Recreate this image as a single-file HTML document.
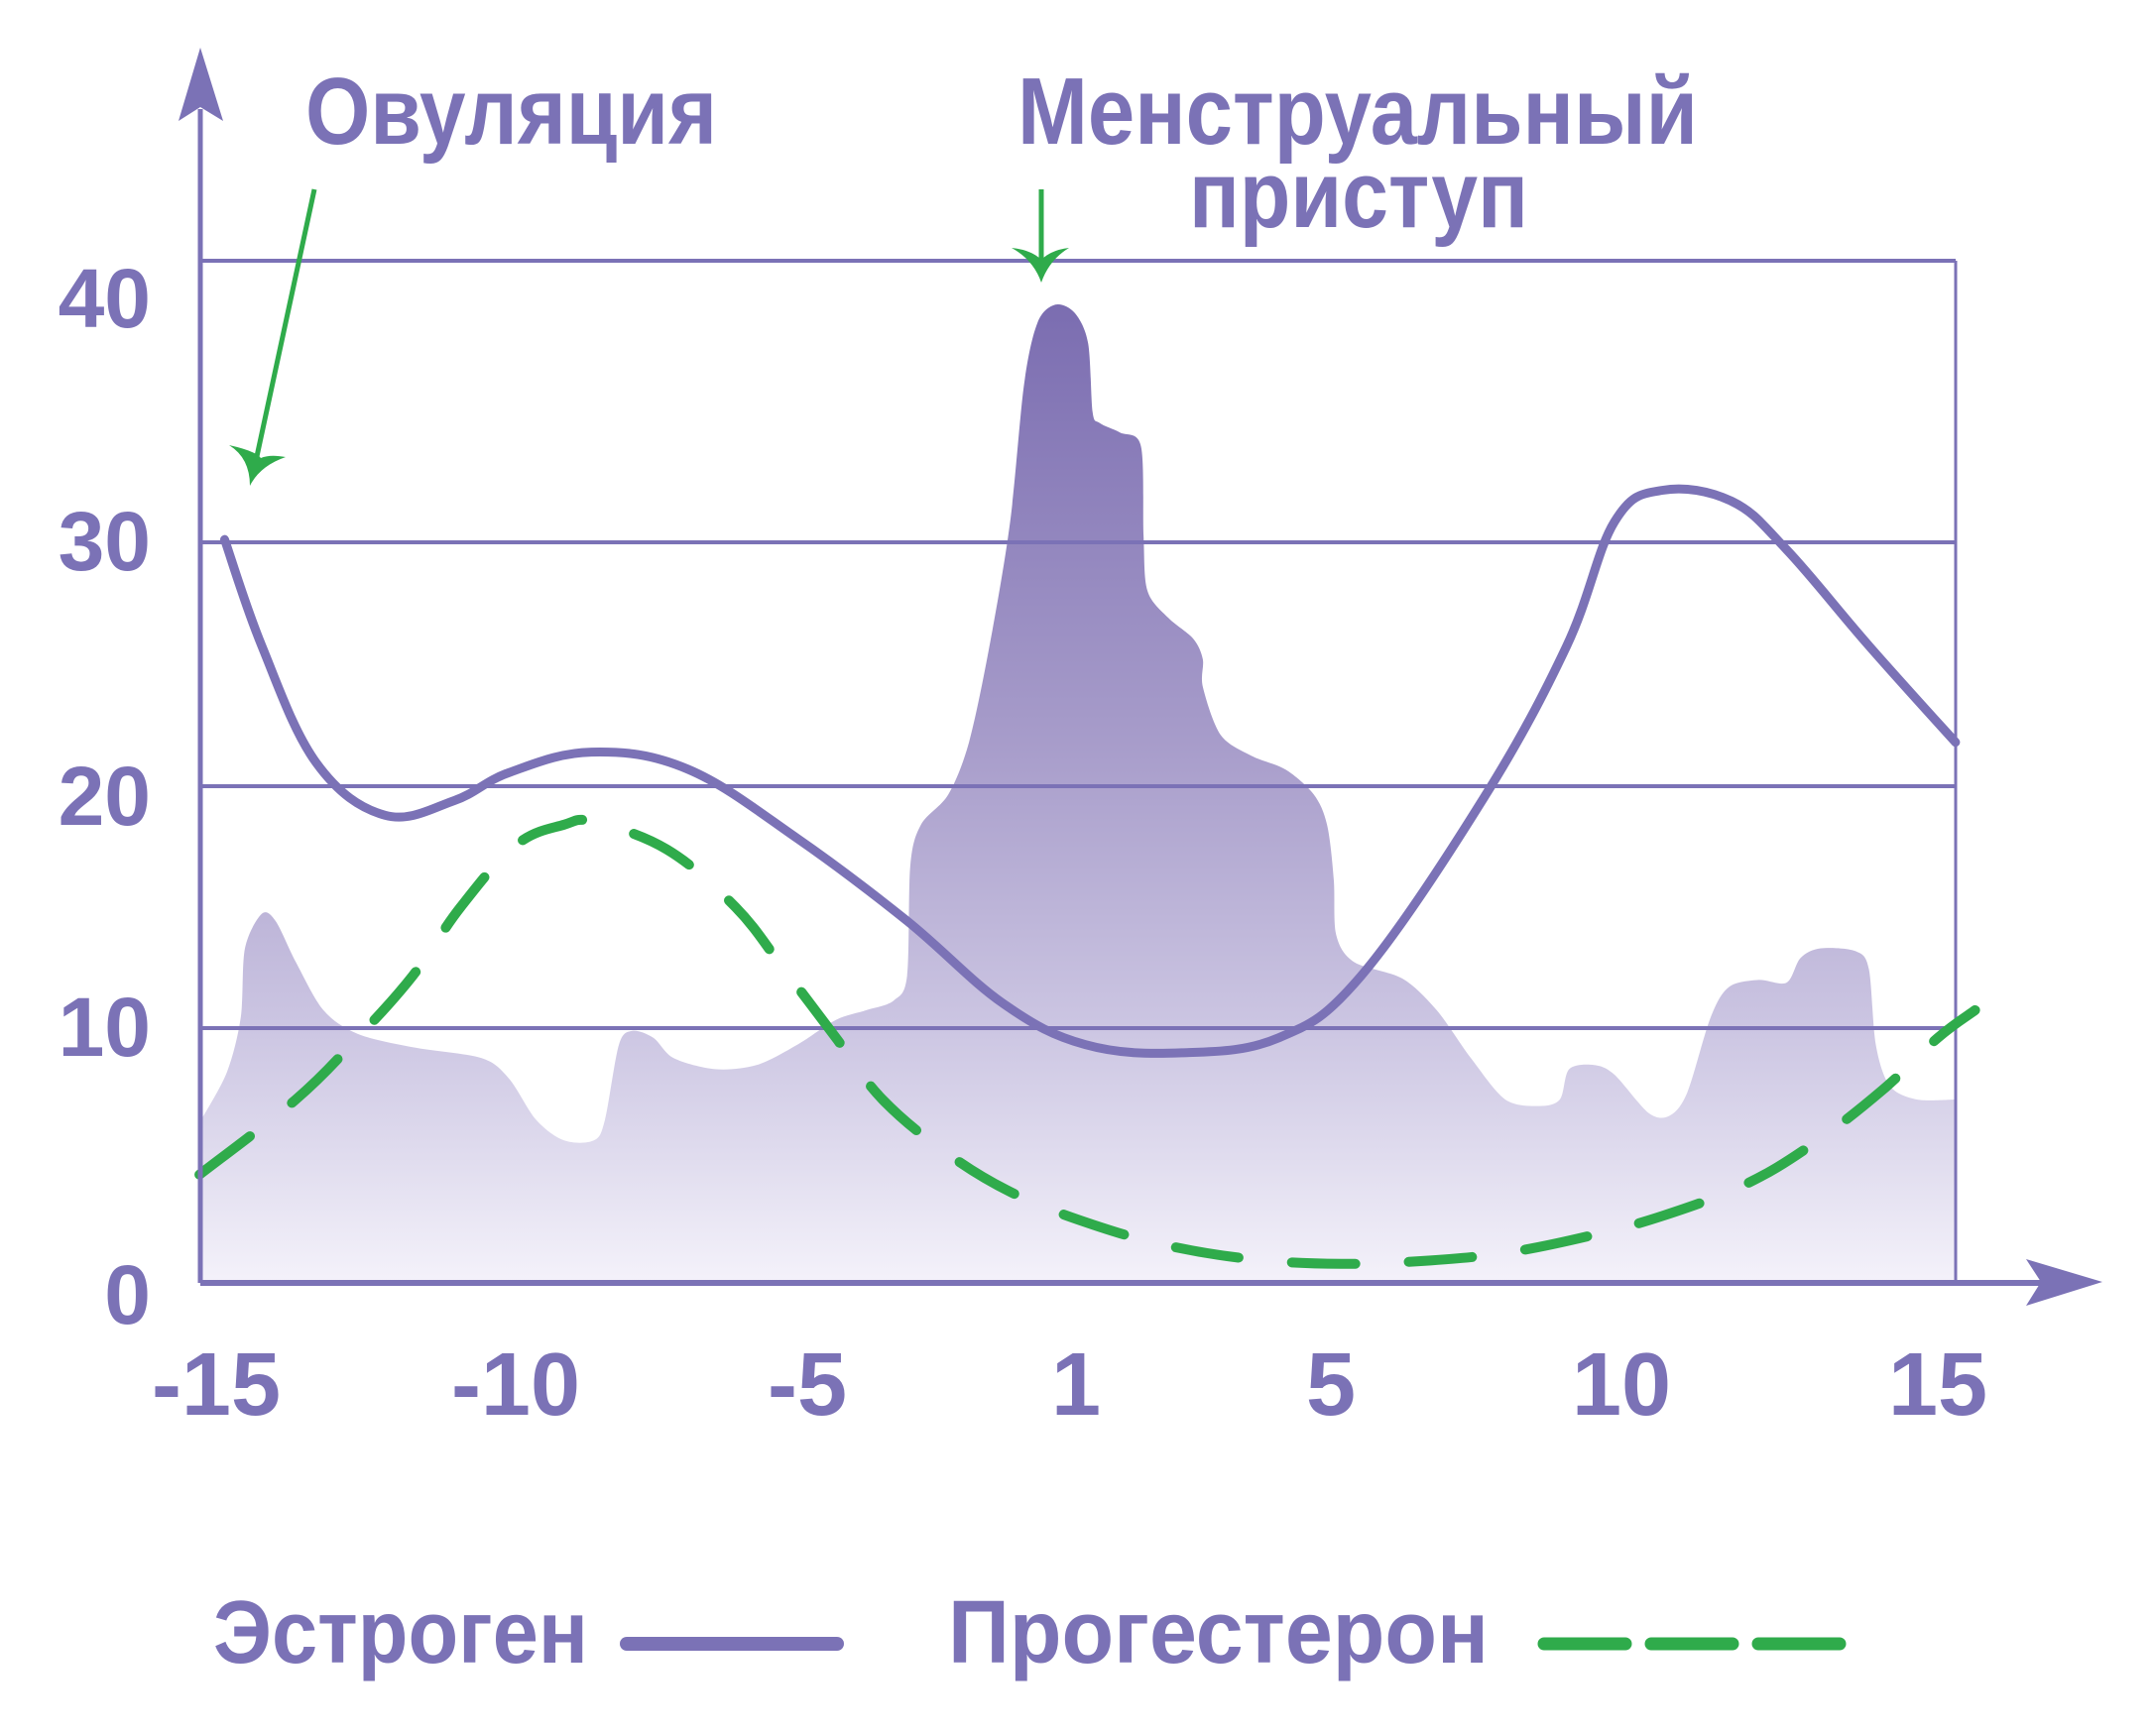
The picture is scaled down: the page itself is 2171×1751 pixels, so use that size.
<!DOCTYPE html>
<html><head><meta charset="utf-8">
<style>
html,body{margin:0;padding:0;background:#fff;}
svg{display:block;}
text{font-family:"Liberation Sans","DejaVu Sans",sans-serif;font-weight:bold;fill:#7b72b6;}
</style></head>
<body>
<svg id="chart" width="2171" height="1751" viewBox="0 0 2171 1751" xmlns="http://www.w3.org/2000/svg">
<defs>
<linearGradient id="areaGrad" gradientUnits="userSpaceOnUse" x1="0" y1="300" x2="0" y2="1294">
<stop offset="0" stop-color="#7a6cb0"/>
<stop offset="0.45" stop-color="#a79cca"/>
<stop offset="0.75" stop-color="#cdc7e3"/>
<stop offset="1" stop-color="#f4f2fa"/>
</linearGradient>
</defs>
<g id="area-layer"></g>
<g id="grid-layer"></g>
<g id="series-layer"></g>
<g id="axes">
<line x1="202" y1="1294" x2="202" y2="110" stroke="#7b72b6" stroke-width="5"/>
<path d="M202,48 L225,122 L202,108 L180,122 Z" fill="#7b72b6"/>
<line x1="202" y1="1294" x2="2070" y2="1294" stroke="#7b72b6" stroke-width="6"/>
<path d="M2120,1293 L2043,1270 L2058,1293 L2043,1317 Z" fill="#7b72b6"/>
</g>
<g id="labels"></g>
<g>
<text x="308" y="145" font-size="96" textLength="415" lengthAdjust="spacingAndGlyphs">Овуляция</text>
<text x="1026" y="145" font-size="96" textLength="686" lengthAdjust="spacingAndGlyphs">Менструальный</text>
<text x="1199" y="229" font-size="96" textLength="342" lengthAdjust="spacingAndGlyphs">приступ</text>
<line x1="317" y1="191" x2="258" y2="465" stroke="#2fab4b" stroke-width="5"/>
<path d="M252,490 Q252,462 231,449 Q258,455 263,462 Q272,458 288,461 Q262,470 252,490 Z" fill="#2fab4b"/>
<line x1="1050" y1="191" x2="1050" y2="270" stroke="#2fab4b" stroke-width="5"/>
<path d="M1050,285 Q1042,262 1020,250 Q1040,252 1050,262 Q1060,252 1078,250 Q1058,262 1050,285 Z" fill="#2fab4b"/>
</g>
<g>
<text x="215" y="1677" font-size="90" textLength="378" lengthAdjust="spacingAndGlyphs">Эстроген</text>
<line x1="632" y1="1658" x2="844" y2="1658" stroke="#7b72b6" stroke-width="14" stroke-linecap="round"/>
<text x="956" y="1677" font-size="90" textLength="545" lengthAdjust="spacingAndGlyphs">Прогестерон</text>
<line x1="1557" y1="1658" x2="1856" y2="1658" stroke="#2fab4b" stroke-width="13" stroke-linecap="round" stroke-dasharray="82 26"/>
</g>
</svg>
<script>
const xTickDays = [-15, -10, -5, 1, 5, 10, 15];
const xTickLabels = ["-15", "-10", "-5", "1", "5", "10", "15"];
const yTickValues = [0, 10, 20, 30, 40];
const yTickLabels = ["0", "10", "20", "30", "40"];

const estrogenDays = [-14.86,-14.24,-13.33,-12.18,-11.03,-10.11,-8.70,-7.05,-5.17,-2.77,-0.63,1.15,2.66,4.18,5.52,7.64,9.06,9.88,10.65,11.74,12.61,13.91,15.28];
const estrogenValues = [30.1,25.76,20.96,18.8,19.4,20.56,21.4,20.7,17.84,14.43,11.02,9.35,9.03,9.62,12.16,19.55,25.76,30.73,31.85,31.46,29.7,25.76,21.8];

const progesteroneDays = [-15.28,-13.67,-12.64,-11.72,-10.92,-10.0,-9.17,-8.66,-7.41,-6.23,-5.40,-4.36,-3.32,-1.85,-0.31,1.37,2.56,3.85,5.17,6.58,8.0,9.42,10.65,11.96,13.04,14.13,15.0,15.59];
const progesteroneValues = [4.25,7.2,9.62,12.16,15.0,17.56,18.41,18.52,17.39,15.0,12.44,9.62,7.2,5.05,3.44,2.2,1.4,0.91,0.75,0.86,1.18,1.83,2.63,3.87,5.48,7.58,9.62,10.74];

const areaDays = [-15.25,-14.82,-14.59,-14.52,-14.24,-14.01,-13.67,-13.21,-12.64,-11.72,-10.57,-10.11,-9.65,-9.17,-8.66,-8.47,-8.23,-8.0,-7.64,-7.29,-6.58,-5.87,-5.17,-4.36,-3.68,-3.07,-2.77,-2.70,-2.46,-1.85,-1.39,-0.93,-0.47,-0.16,0.14,0.54,0.97,1.19,1.26,1.37,1.69,2.02,2.06,2.12,2.45,2.84,2.99,2.99,3.27,3.75,4.29,4.73,4.94,5.05,5.09,5.40,6.23,6.82,7.41,8.0,8.58,8.94,9.10,9.53,9.88,10.43,10.76,11.04,11.41,11.70,12.17,12.61,12.83,13.15,13.70,13.91,14.02,14.24,14.67,15.28];
const areaValues = [6.4,8.28,10.45,13.3,14.72,14.43,12.73,10.74,9.78,9.25,8.82,8.01,6.4,5.59,5.59,6.4,9.35,9.89,9.62,8.82,8.39,8.55,9.35,10.34,10.74,11.14,12.16,16.7,18.41,19.66,21.8,25.76,30.73,35.6,37.8,38.44,38.15,37.07,34.63,34.24,33.9,33.41,30.24,28.02,26.9,26.05,25.2,24.07,22.1,21.25,20.68,19.66,18.41,16.14,13.86,12.73,12.05,10.74,8.82,7.2,6.94,7.2,8.39,8.55,8.17,6.67,6.56,7.47,10.45,11.7,11.99,11.88,12.9,13.3,13.18,12.44,9.35,7.74,7.2,7.2];

const xKnotPx = [218, 520, 814, 1085, 1342, 1635, 1954];
const yKnotPx = [1294, 1037, 793, 547, 263];

function interp(v, ks, ps) {
  let i = 0;
  if (v <= ks[0]) i = 0;
  else if (v >= ks[ks.length - 1]) i = ks.length - 2;
  else { while (v > ks[i + 1]) i++; }
  return ps[i] + (v - ks[i]) * (ps[i + 1] - ps[i]) / (ks[i + 1] - ks[i]);
}
function xScale(d) { return interp(d, xTickDays, xKnotPx); }
function yScale(v) { return interp(v, yTickValues, yKnotPx); }

function smoothPath(pts, t) {
  let d = "M" + pts[0][0].toFixed(1) + "," + pts[0][1].toFixed(1);
  for (let i = 0; i < pts.length - 1; i++) {
    const p0 = pts[i - 1] || pts[i], p1 = pts[i], p2 = pts[i + 1], p3 = pts[i + 2] || p2;
    const c1x = p1[0] + (p2[0] - p0[0]) * t, c1y = p1[1] + (p2[1] - p0[1]) * t;
    const c2x = p2[0] - (p3[0] - p1[0]) * t, c2y = p2[1] - (p3[1] - p1[1]) * t;
    d += " C" + c1x.toFixed(1) + "," + c1y.toFixed(1) + " " + c2x.toFixed(1) + "," + c2y.toFixed(1) + " " + p2[0].toFixed(1) + "," + p2[1].toFixed(1);
  }
  return d;
}
const NS = "http://www.w3.org/2000/svg";

// area
const areaPts = areaDays.map((d, i) => [xScale(d), yScale(areaValues[i])]);
const area = document.createElementNS(NS, "path");


area.setAttribute("d", smoothPath(areaPts, 0.15) + " L1972," + yScale(0) + " L" + areaPts[0][0].toFixed(1) + "," + yScale(0) + " Z");
area.setAttribute("fill", "url(#areaGrad)");
document.getElementById("area-layer").appendChild(area);

// grid
const grid = document.getElementById("grid-layer");
yTickValues.forEach((v, i) => {
  if (v === 0) return;
  const ln = document.createElementNS(NS, "line");
  
  
  ln.setAttribute("x1", 202); ln.setAttribute("x2", 1972);
  ln.setAttribute("y1", yScale(v)); ln.setAttribute("y2", yScale(v));
  ln.setAttribute("stroke", "#7b72b6"); ln.setAttribute("stroke-width", "4");
  grid.appendChild(ln);
});
const border = document.createElementNS(NS, "line");


border.setAttribute("x1", 1972); border.setAttribute("x2", 1972);
border.setAttribute("y1", yScale(40)); border.setAttribute("y2", yScale(0));
border.setAttribute("stroke", "#7b72b6"); border.setAttribute("stroke-width", "3");
grid.appendChild(border);

// series
const series = document.getElementById("series-layer");
const prog = document.createElementNS(NS, "path");


prog.setAttribute("d", smoothPath(progesteroneDays.map((d, i) => [xScale(d), yScale(progesteroneValues[i])]), 0.18));
prog.setAttribute("fill", "none"); prog.setAttribute("stroke", "#2fab4b");
prog.setAttribute("stroke-width", "10"); prog.setAttribute("stroke-linecap", "round");
prog.setAttribute("stroke-dasharray", "64 54");
series.appendChild(prog);
const est = document.createElementNS(NS, "path");


est.setAttribute("d", smoothPath(estrogenDays.map((d, i) => [xScale(d), yScale(estrogenValues[i])]), 0.18));
est.setAttribute("fill", "none"); est.setAttribute("stroke", "#7b72b6");
est.setAttribute("stroke-width", "9"); est.setAttribute("stroke-linecap", "round");
series.appendChild(est);

// tick labels
const labels = document.getElementById("labels");
const yBaseOffset = [41, 28, 39, 28, 67];
yTickValues.forEach((v, i) => {
  const t = document.createElementNS(NS, "text");
  
  
  t.setAttribute("x", 152); t.setAttribute("y", yScale(v) + yBaseOffset[i]);
  t.setAttribute("text-anchor", "end"); t.setAttribute("font-size", "84");
  t.textContent = yTickLabels[i];
  labels.appendChild(t);
});
xTickDays.forEach((d, i) => {
  const t = document.createElementNS(NS, "text");
  
  
  t.setAttribute("x", xScale(d)); t.setAttribute("y", 1427);
  t.setAttribute("text-anchor", "middle"); t.setAttribute("font-size", "90");
  t.textContent = xTickLabels[i];
  labels.appendChild(t);
});
</script>
</body></html>
